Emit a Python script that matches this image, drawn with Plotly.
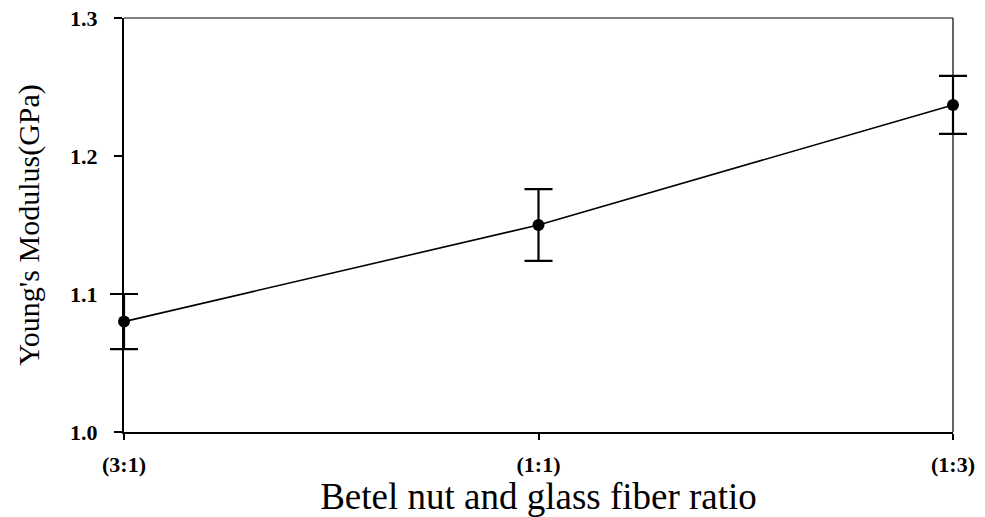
import plotly.graph_objects as go

# Fiber ratio categories and measured Young's modulus (mean ± error)
ratios = ["(3:1)", "(1:1)", "(1:3)"]
modulus = [1.080, 1.150, 1.237]
modulus_err = [0.020, 0.026, 0.021]
y_ticks = [1.0, 1.1, 1.2, 1.3]
y_tick_labels = ["1.0", "1.1", "1.2", "1.3"]

serif = "Liberation Serif, Times New Roman, serif"

# The data axis is a little wider than the framed axis so that the end
# error-bar caps are not clipped at the frame edges.
pad_px = 20
frame_px = 829
plot_px = frame_px + 2 * pad_px
unit_px = frame_px / (len(ratios) - 1)
pad_units = pad_px / unit_px
positions = list(range(len(ratios)))

fig = go.Figure()
# invisible companion trace that activates the framed category axis
fig.add_trace(go.Scatter(
    x=positions,
    y=modulus,
    xaxis="x2",
    yaxis="y",
    mode="markers",
    marker=dict(opacity=0),
    hoverinfo="skip",
    showlegend=False,
))
fig.add_trace(go.Scatter(
    x=ratios,
    y=modulus,
    xaxis="x",
    yaxis="y",
    mode="lines+markers",
    line=dict(color="black", width=1.6),
    marker=dict(color="black", size=12),
    error_y=dict(type="data", array=modulus_err, visible=True,
                 color="black", thickness=2.2, width=14),
    showlegend=False,
    cliponaxis=False,
))

# thin top and right frame lines
fig.add_shape(type="line", xref="x2 domain", yref="y domain", x0=0, x1=1, y0=1, y1=1,
              line=dict(color="black", width=1.2))
fig.add_shape(type="line", xref="x2 domain", yref="y domain", x0=1, x1=1, y0=0, y1=1,
              line=dict(color="black", width=1.2))

fig.update_layout(
    width=985, height=517,
    margin=dict(l=124 - pad_px, r=32 - pad_px, t=18, b=85, autoexpand=False),
    plot_bgcolor="rgba(0,0,0,0)",
    paper_bgcolor="white",
    font=dict(family=serif, color="black"),
    xaxis=dict(
        type="category",
        range=[-pad_units, len(ratios) - 1 + pad_units],
        domain=[0, 1],
        anchor="y",
        visible=False,
        automargin=False,
    ),
    xaxis2=dict(
        range=[0, len(ratios) - 1],
        domain=[pad_px / plot_px, 1 - pad_px / plot_px],
        anchor="y",
        automargin=False,
        tickvals=positions,
        ticktext=ratios,
        showgrid=False,
        zeroline=False,
        showline=True, linecolor="black", linewidth=1.5,
        ticks="outside", ticklen=6, tickwidth=1.5, tickcolor="black",
        ticklabelstandoff=6,
        tickfont=dict(family=serif, size=22, color="black", weight="bold"),
        title=dict(text="Betel nut and glass fiber ratio",
                   font=dict(family=serif, size=37, color="black"), standoff=4),
    ),
    yaxis=dict(
        range=[1.0, 1.3],
        anchor="x2",
        automargin=False,
        tickvals=y_ticks,
        ticktext=y_tick_labels,
        showgrid=False,
        zeroline=False,
        showline=True, linecolor="black", linewidth=2,
        ticks="outside", ticklen=8, tickwidth=1.5, tickcolor="black",
        ticklabelstandoff=12,
        tickfont=dict(family=serif, size=22, color="black", weight="bold"),
        title=dict(text="Young's Modulus(GPa)",
                   font=dict(family=serif, size=30, color="black"), standoff=22),
    ),
)

fig.write_html("out.html")
